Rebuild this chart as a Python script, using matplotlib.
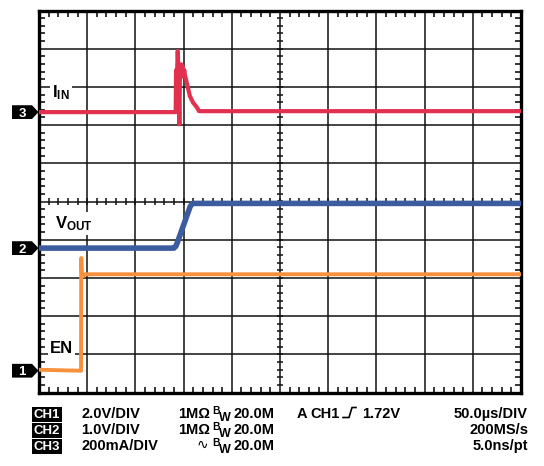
import numpy as np
import matplotlib.pyplot as plt
from matplotlib.patches import Polygon
from matplotlib.lines import Line2D
from matplotlib.transforms import blended_transform_factory

plt.rcParams['font.family'] = ['Liberation Sans', 'DejaVu Sans']
plt.rcParams['mathtext.fontset'] = 'custom'
plt.rcParams['mathtext.rm'] = 'Liberation Sans:bold'
plt.rcParams['mathtext.bf'] = 'Liberation Sans:bold'
plt.rcParams['mathtext.it'] = 'Liberation Sans:bold'

# scope settings
t_div = 50.0                      # us / div
en_scale, en_gnd = 2.0, 0.57      # V/div, ground marker (div)
vout_scale, vout_gnd = 1.0, 3.78  # V/div
iin_scale, iin_gnd = 200.0, 7.34  # mA/div

# CH1 : EN (V)
en_t = [0, 43.0, 43.6, 43.8, 44.6, 46.0, 47.5, 500]
en_v = [0.05, 0.0, 0.0, 5.9, 5.0, 4.95, 5.05, 5.05]

# CH2 : VOUT (V)
vout_t = [0, 140.0, 142.0, 144.0, 157.0, 159.5, 500]
vout_v = [0, 0, 0.05, 0.18, 1.10, 1.17, 1.17]

# CH3 : IIN (mA)
iin_t = [0, 141.8, 142.2, 143.0, 143.9, 144.6, 145.6, 146.3, 147.0, 147.7,
         148.4, 149.2, 149.9, 150.7, 151.5, 153.5, 156.5, 159.8, 163.9, 166.0, 500]
iin_i = [0, 0, 220, 170, 320, 230, -64, 240, 180, 250,
         190, 240, 200, 220, 190, 150, 84, 50, 24, 5, 5]

W, H = 544, 466
fig = plt.figure(figsize=(W / 100, H / 100), dpi=100)
ax = fig.add_axes([39 / W, 1 - 392.5 / H, 482 / W, 382 / H])
ax.set_xlim(0, 10)
ax.set_ylim(0, 10)


def fx(px):
    return px / W


def fy(py):
    return 1 - py / H


# graticule
for k in range(1, 10):
    ax.axvline(k, color='#111111', lw=1.1, zorder=1)
    ax.axhline(k, color='#111111', lw=1.1, zorder=1)
for s in ax.spines.values():
    s.set_linewidth(2.4)
ax.set_xticks(np.arange(0, 10.01, 1))
ax.set_yticks(np.arange(0, 10.01, 1))
ax.set_xticks(np.arange(0, 10.01, 0.2), minor=True)
ax.set_yticks(np.arange(0, 10.01, 0.2), minor=True)
ax.tick_params(which='both', direction='in', length=0, labelbottom=False,
               labelleft=False, top=True, right=True)
ax.tick_params(which='minor', length=4, width=1.1)
mt = np.arange(0.2, 10, 0.2)
ax.vlines(mt, 5 - 0.08, 5 + 0.08, color='#111111', lw=1.1, zorder=1)
ax.hlines(mt, 5 - 0.065, 5 + 0.065, color='#111111', lw=1.1, zorder=1)

# traces
ax.plot(np.array(en_t) / t_div, en_gnd + np.array(en_v) / en_scale,
        color='#F7913D', lw=2.8, zorder=3)
ax.plot(np.array(vout_t) / t_div, vout_gnd + np.array(vout_v) / vout_scale,
        color='#3B5C9E', lw=4.0, zorder=3)
ax.plot(np.array(iin_t) / t_div, iin_gnd + np.array(iin_i) / iin_scale,
        color='#E2304F', lw=3.0, zorder=3)

# trace labels
lab = dict(fontsize=12, fontweight='bold', va='center', ha='left', zorder=4,
           bbox=dict(facecolor='white', edgecolor='none', pad=1.5))
ax.text(0.27, 7.84, r'$\mathbf{I_{IN}}$', **lab)
ax.text(0.33, 4.42, r'$\mathbf{V_{OUT}}$', **lab)
ax.text(0.23, 1.14, 'EN', **lab)

# channel ground markers
tr = blended_transform_factory(fig.transFigure, ax.transData)
for num, g in [('1', en_gnd), ('2', vout_gnd), ('3', iin_gnd)]:
    h = 0.18
    poly = Polygon([[fx(12), g - h], [fx(32), g - h], [fx(38.5), g],
                    [fx(32), g + h], [fx(12), g + h]], closed=True,
                   facecolor='black', edgecolor='none', transform=tr,
                   clip_on=False)
    fig.add_artist(poly)
    fig.text(fx(22), 0, num, transform=tr, color='white', fontsize=9.5,
             fontweight='bold', ha='center', va='center_baseline').set_y(g)

# status lines
rows = [418, 434, 450]
ch_names = ['CH1', 'CH2', 'CH3']
ch_vdiv = ['2.0V/DIV', '1.0V/DIV', '200mA/DIV']
right_txt = ['50.0\u00b5s/DIV', '200MS/s', '5.0ns/pt']
tk = dict(fontsize=10.5, fontweight='bold', va='baseline')
for r, name, vd, rt in zip(rows, ch_names, ch_vdiv, right_txt):
    fig.text(fx(47), fy(r - 0.5), name, color='white', fontsize=9.5,
             fontweight='bold', family=['Liberation Sans Narrow', 'Liberation Sans'],
             ha='center', va='baseline',
             bbox=dict(boxstyle='square,pad=0.1', facecolor='black',
                       edgecolor='none'))
    fig.text(fx(81), fy(r), vd, **tk)
    fig.text(fx(528), fy(r), rt, ha='right', fontsize=10.5, fontweight='bold',
             va='baseline')

# bandwidth limit markers
for r, imp in zip(rows, ['1M\u03a9', '1M\u03a9', None]):
    if imp:
        fig.text(fx(178), fy(r), imp, **tk)
    fig.text(fx(212), fy(r - 4), 'B', fontsize=7.5, fontweight='bold',
             va='baseline')
    fig.text(fx(218.5), fy(r + 3), 'W', fontsize=9, fontweight='bold',
             va='baseline')
    fig.text(fx(233), fy(r), '20.0M', **tk)
fig.text(fx(197), fy(rows[2] - 5), '\u223f', fontsize=10, va='center',
         family=['DejaVu Sans'])
fig.text(fx(297), fy(rows[0]), 'A', **tk)
fig.text(fx(310), fy(rows[0]), 'CH1', **tk)
fig.text(fx(362), fy(rows[0]), '1.72V', **tk)
fig.add_artist(Line2D([fx(343), fx(349), fx(352), fx(356)],
                      [fy(417.5), fy(417.5), fy(407.5), fy(407.5)],
                      color='black', lw=1.2, transform=fig.transFigure))

fig.savefig('out.png', dpi=100)
